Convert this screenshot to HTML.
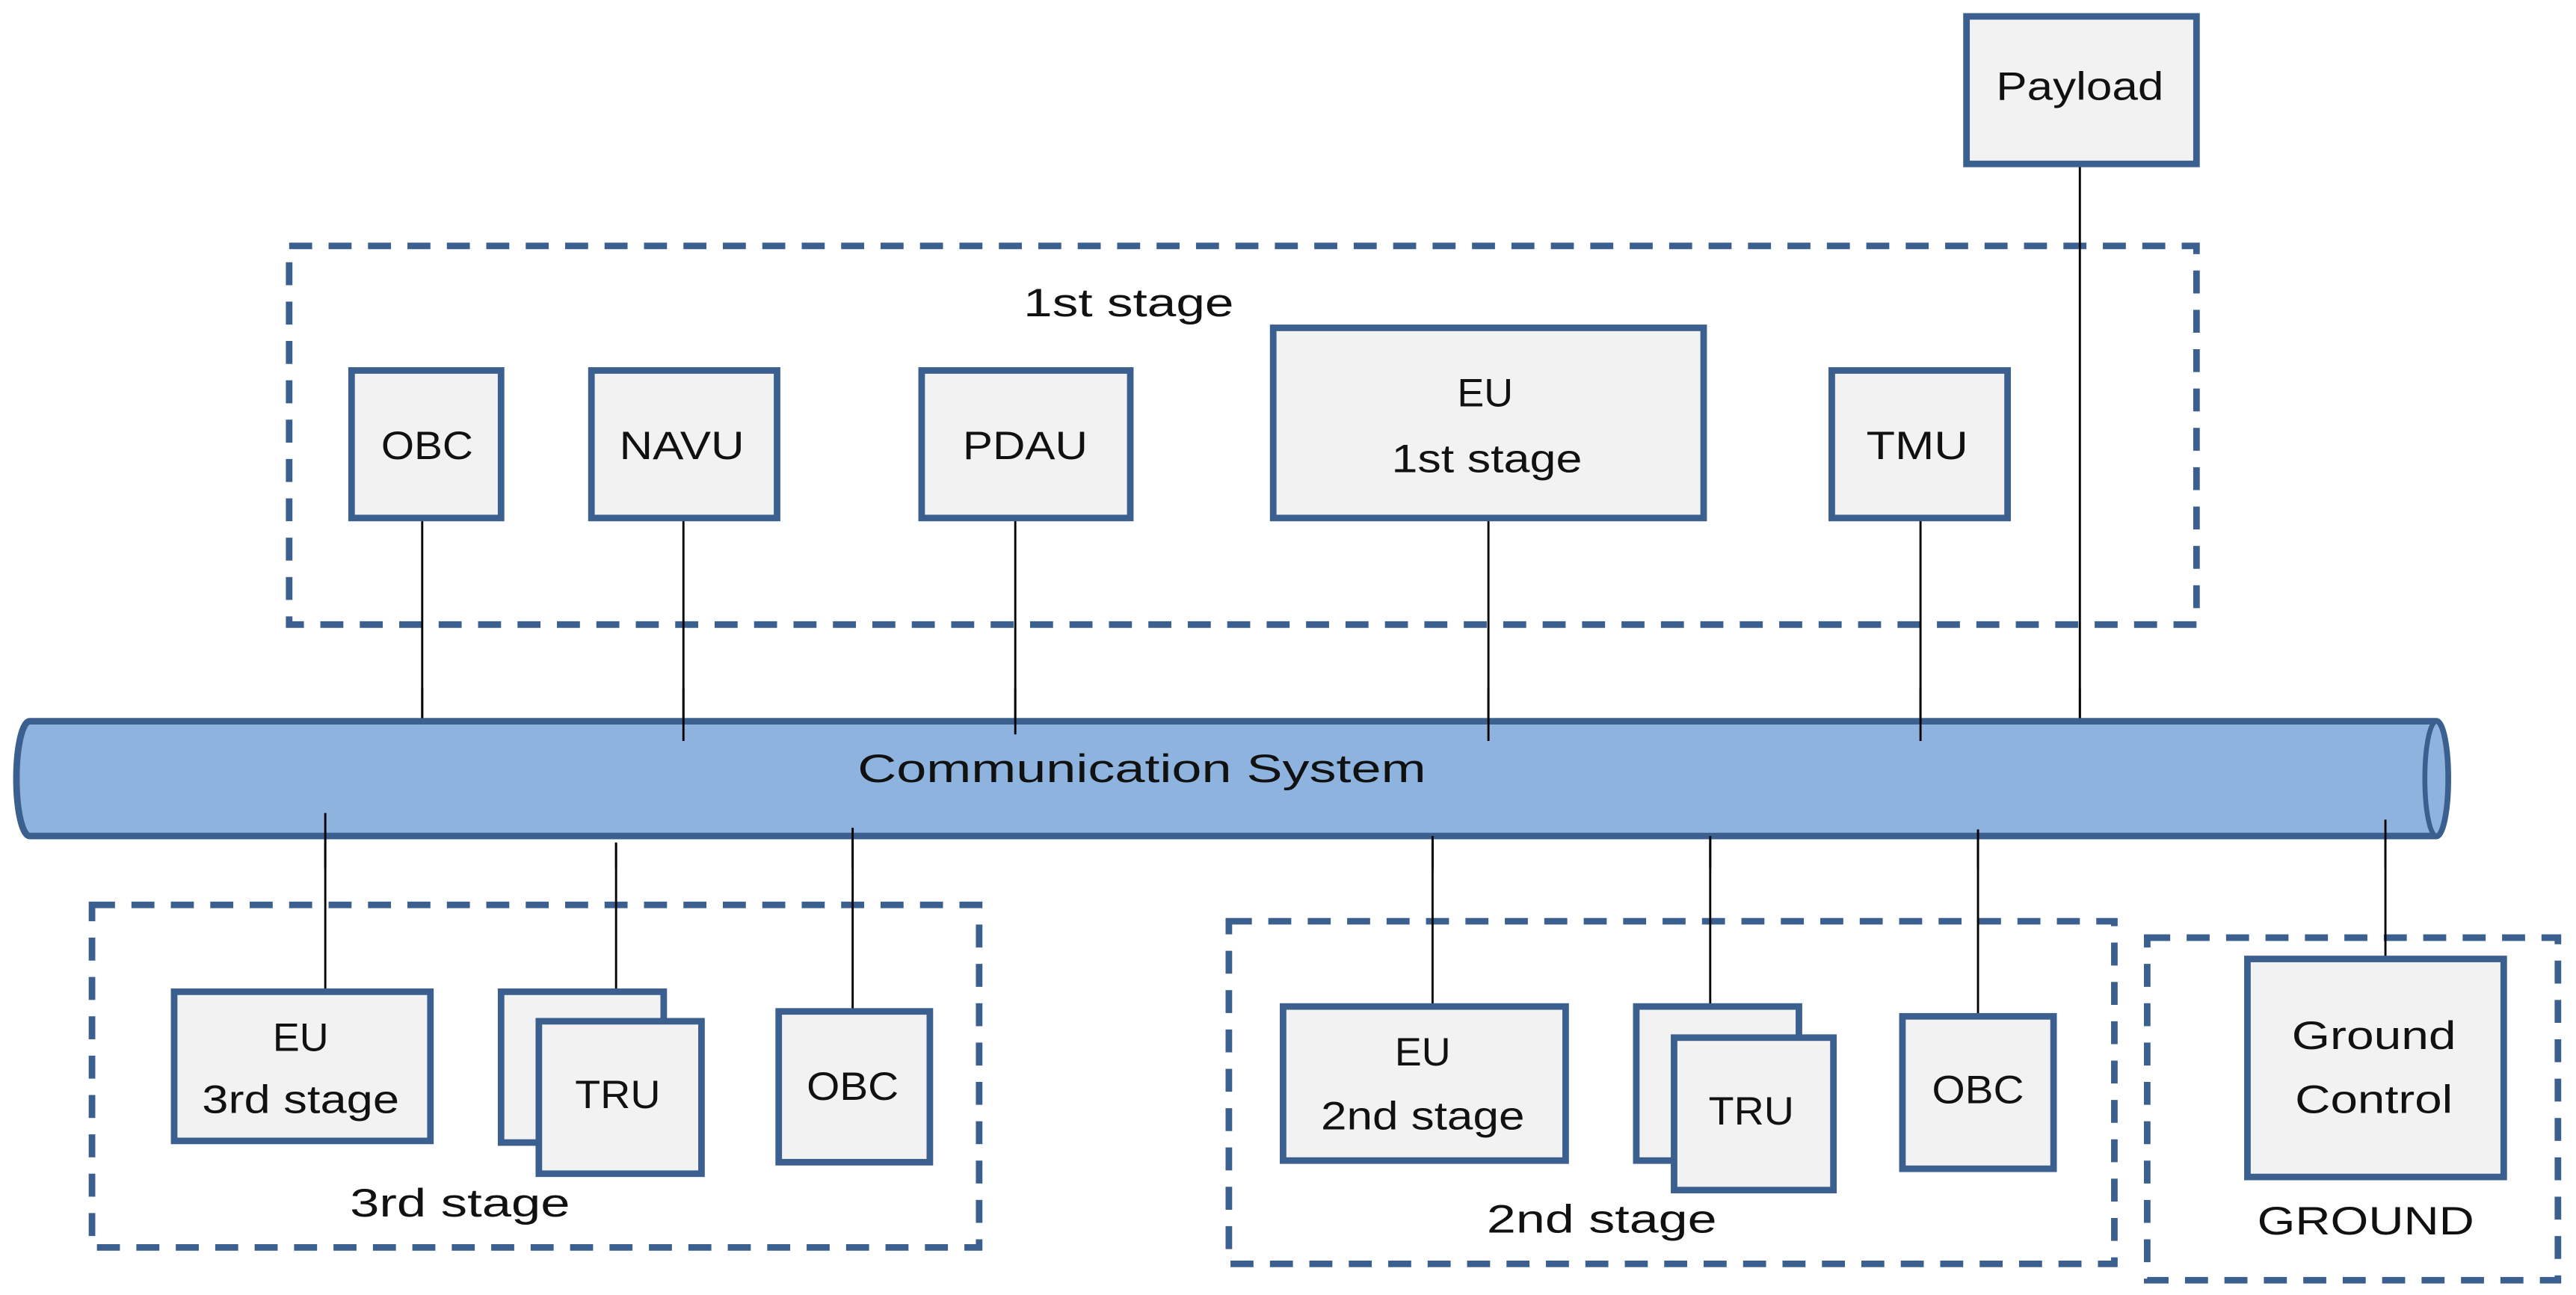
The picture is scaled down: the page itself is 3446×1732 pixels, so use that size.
<!DOCTYPE html>
<html><head><meta charset="utf-8"><style>html,body{margin:0;padding:0;background:#fff}svg{display:block}</style></head>
<body>
<svg width="3446" height="1732" viewBox="0 0 1568 790" preserveAspectRatio="none" xmlns="http://www.w3.org/2000/svg">
<g fill="none" stroke="#3b6090" stroke-width="4" stroke-dasharray="14 10">
<rect x="176" y="150" width="1161" height="231"/>
<rect x="56" y="552" width="540" height="209"/>
<rect x="748" y="562" width="539" height="209"/>
<rect x="1307" y="572" width="250" height="209"/>
</g>
<g stroke="#000" stroke-width="1.3">
<line x1="1266" y1="100" x2="1266" y2="440"/>
<line x1="257" y1="305" x2="257" y2="440"/>
<line x1="416" y1="316" x2="416" y2="452"/>
<line x1="618" y1="316" x2="618" y2="448"/>
<line x1="906" y1="316" x2="906" y2="452"/>
<line x1="1169" y1="316" x2="1169" y2="452"/>
<line x1="198" y1="496" x2="198" y2="605"/>
<line x1="375" y1="514" x2="375" y2="605"/>
<line x1="519" y1="505" x2="519" y2="617"/>
<line x1="872" y1="510" x2="872" y2="614"/>
<line x1="1041" y1="510" x2="1041" y2="614"/>
<line x1="1204" y1="506" x2="1204" y2="620"/>
<line x1="1452" y1="500" x2="1452" y2="585"/>
</g>
<path d="M18 440 H1483 A7 35 0 0 1 1483 510 H18 A8 35 0 0 1 18 440 Z" fill="#8eb3de" stroke="#3b6090" stroke-width="4"/>
<ellipse cx="1483" cy="475" rx="7" ry="35" fill="#8eb3de" stroke="#3b6090" stroke-width="3"/>
<g stroke="#000" stroke-width="1.3">
<line x1="257" y1="420" x2="257" y2="438"/>
<line x1="416" y1="420" x2="416" y2="452"/>
<line x1="618" y1="420" x2="618" y2="448"/>
<line x1="906" y1="420" x2="906" y2="452"/>
<line x1="1169" y1="420" x2="1169" y2="452"/>
<line x1="1266" y1="420" x2="1266" y2="438"/>
<line x1="198" y1="496" x2="198" y2="530"/>
<line x1="375" y1="514" x2="375" y2="530"/>
<line x1="519" y1="505" x2="519" y2="530"/>
<line x1="872" y1="510" x2="872" y2="530"/>
<line x1="1041" y1="510" x2="1041" y2="530"/>
<line x1="1204" y1="506" x2="1204" y2="530"/>
<line x1="1452" y1="500" x2="1452" y2="530"/>
</g>
<g fill="#f2f2f2" stroke="#3b6090" stroke-width="4">
<rect x="1197" y="10" width="140" height="90"/>
<rect x="214" y="226" width="91" height="90"/>
<rect x="360" y="226" width="113" height="90"/>
<rect x="561" y="226" width="127" height="90"/>
<rect x="775" y="200" width="262" height="116"/>
<rect x="1115" y="226" width="107" height="90"/>
<rect x="106" y="605" width="156" height="91"/>
<rect x="305" y="605" width="99" height="92"/>
<rect x="328" y="623" width="99" height="93"/>
<rect x="474" y="617" width="92" height="92"/>
<rect x="781" y="614" width="172" height="94"/>
<rect x="996" y="614" width="99" height="94"/>
<rect x="1019" y="633" width="97" height="93"/>
<rect x="1158" y="620" width="92" height="93"/>
<rect x="1368" y="585" width="156" height="133"/>
</g>
<g font-family="Liberation Sans Narrow, Liberation Sans, sans-serif" font-size="24" fill="#111" text-anchor="middle">
<text x="1266" y="61" textLength="102" lengthAdjust="spacingAndGlyphs">Payload</text>
<text x="687" y="193" textLength="128" lengthAdjust="spacingAndGlyphs">1st stage</text>
<text x="260" y="280" textLength="56" lengthAdjust="spacingAndGlyphs">OBC</text>
<text x="415" y="280" textLength="76" lengthAdjust="spacingAndGlyphs">NAVU</text>
<text x="624" y="280" textLength="76" lengthAdjust="spacingAndGlyphs">PDAU</text>
<text x="904" y="248" textLength="34" lengthAdjust="spacingAndGlyphs">EU</text>
<text x="905" y="288" textLength="116" lengthAdjust="spacingAndGlyphs">1st stage</text>
<text x="1167" y="280" textLength="62" lengthAdjust="spacingAndGlyphs">TMU</text>
<text x="695" y="477" textLength="346" lengthAdjust="spacingAndGlyphs">Communication System</text>
<text x="183" y="641" textLength="34" lengthAdjust="spacingAndGlyphs">EU</text>
<text x="183" y="679" textLength="120" lengthAdjust="spacingAndGlyphs">3rd stage</text>
<text x="376" y="676" textLength="52" lengthAdjust="spacingAndGlyphs">TRU</text>
<text x="519" y="671" textLength="56" lengthAdjust="spacingAndGlyphs">OBC</text>
<text x="280" y="742" textLength="134" lengthAdjust="spacingAndGlyphs">3rd stage</text>
<text x="866" y="650" textLength="34" lengthAdjust="spacingAndGlyphs">EU</text>
<text x="866" y="689" textLength="124" lengthAdjust="spacingAndGlyphs">2nd stage</text>
<text x="1066" y="686" textLength="52" lengthAdjust="spacingAndGlyphs">TRU</text>
<text x="1204" y="673" textLength="56" lengthAdjust="spacingAndGlyphs">OBC</text>
<text x="975" y="752" textLength="140" lengthAdjust="spacingAndGlyphs">2nd stage</text>
<text x="1445" y="640" textLength="100" lengthAdjust="spacingAndGlyphs">Ground</text>
<text x="1445" y="679" textLength="96" lengthAdjust="spacingAndGlyphs">Control</text>
<text x="1440" y="753" textLength="132" lengthAdjust="spacingAndGlyphs">GROUND</text>
</g>
</svg>
</body></html>
